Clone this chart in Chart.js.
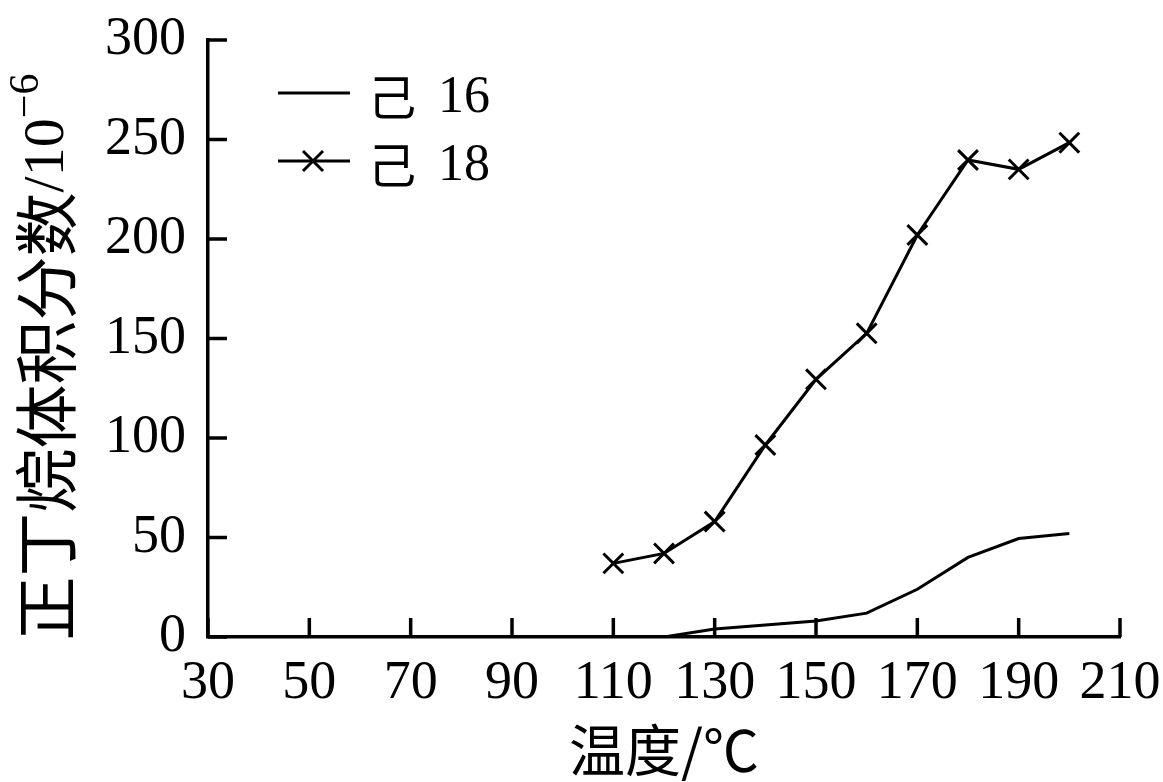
<!DOCTYPE html>
<html>
<head>
<meta charset="utf-8">
<script src="https://cdn.jsdelivr.net/npm/chart.js@4"></script>
<style>
  html, body { margin: 0; padding: 0; background: #fff; }
  #wrap { width: 1163px; height: 782px; position: relative; }
</style>
</head>
<body>
<div id="wrap"><canvas id="myChart"></canvas></div>
<script>
// 數據
const xTicks = [30, 50, 70, 90, 110, 130, 150, 170, 190, 210];
const yTicks = [0, 50, 100, 150, 200, 250, 300];
const seriesNames = ['己 16', '己 18'];
const temps16 = [120, 130, 140, 150, 160, 170, 180, 190, 200];
const values16 = [0, 4, 6, 8, 12, 24, 40, 49.5, 52];
const temps18 = [110, 120, 130, 140, 150, 160, 170, 180, 190, 200];
const values18 = [37, 42, 58, 96.5, 129.5, 152.6, 202, 239.7, 235, 248.4];

const serif = '"Liberation Serif", "Noto Sans CJK SC", serif';
const cjk = '"Noto Sans CJK SC", "Liberation Serif", serif';

// 刻度朝內
const innerTicks = {
  id: 'innerTicks',
  afterDraw(chart) {
    const ctx = chart.ctx;
    const xs = chart.scales.x, ys = chart.scales.y;
    const area = chart.chartArea;
    ctx.save();
    ctx.strokeStyle = '#000';
    ctx.lineWidth = 3.5;
    xTicks.forEach(v => {
      const px = xs.getPixelForValue(v);
      ctx.beginPath();
      ctx.moveTo(px, area.bottom);
      ctx.lineTo(px, area.bottom - 19);
      ctx.stroke();
    });
    yTicks.forEach(v => {
      const py = ys.getPixelForValue(v);
      ctx.beginPath();
      ctx.moveTo(area.left, py);
      ctx.lineTo(area.left + 19, py);
      ctx.stroke();
    });
    ctx.restore();
  }
};

// 圖例 (畫在圖表內左上)
const innerLegend = {
  id: 'innerLegend',
  afterDraw(chart) {
    const ctx = chart.ctx;
    ctx.save();
    chart.data.datasets.forEach((ds, i) => {
      const y = 93 + i * 68;
      ctx.strokeStyle = '#000';
      ctx.lineWidth = 3;
      ctx.beginPath();
      ctx.moveTo(278, y);
      ctx.lineTo(350, y);
      ctx.stroke();
      if (ds.pointRadius > 0) {
        const r = 10;
        ctx.lineWidth = 3;
        ctx.beginPath();
        ctx.moveTo(313 - r, y - r);
        ctx.lineTo(313 + r, y + r);
        ctx.moveTo(313 - r, y + r);
        ctx.lineTo(313 + r, y - r);
        ctx.stroke();
      }
      const parts = ds.label.split(' ');
      ctx.fillStyle = '#000';
      ctx.textBaseline = 'middle';
      ctx.textAlign = 'left';
      ctx.font = '48px ' + cjk;
      ctx.fillText(parts[0], 368, y + 4);
      ctx.font = '52px ' + serif;
      ctx.fillText(parts[1], 438, y + 5);
    });
    ctx.restore();
  }
};

// 軸標題
const axisTitles = {
  id: 'axisTitles',
  afterDraw(chart) {
    const ctx = chart.ctx;
    const area = chart.chartArea;
    ctx.save();
    ctx.fillStyle = '#000';
    ctx.textBaseline = 'middle';
    // x
    ctx.textAlign = 'center';
    ctx.font = '56px ' + cjk;
    ctx.fillText('温度/℃', (area.left + area.right) / 2, 750);
    // y，含上標
    const parts = [
      { t: '正丁烷体积分数', f: '64px ' + cjk, dy: 0 },
      { t: '/', f: '58px ' + serif, dy: 2 },
      { t: '10', f: '58px ' + serif, dy: 2 },
      { t: '−6', f: '42px ' + serif, dy: -19 }
    ];
    let total = 0;
    parts.forEach(p => { ctx.font = p.f; p.w = ctx.measureText(p.t).width; total += p.w; });
    ctx.translate(46, 357);
    ctx.rotate(-Math.PI / 2);
    ctx.textAlign = 'left';
    let x = -total / 2;
    parts.forEach(p => {
      ctx.font = p.f;
      ctx.fillText(p.t, x, p.dy);
      x += p.w;
    });
    ctx.restore();
  }
};

var canvas = document.getElementById('myChart');
var ctx = canvas.getContext('2d');
const myChart = new Chart(ctx, {
  type: 'line',
  data: {
    datasets: [
      {
        label: seriesNames[0],
        data: temps16.map((t, i) => ({ x: t, y: values16[i] })),
        borderColor: '#000',
        borderWidth: 3,
        pointRadius: 0,
        tension: 0,
        fill: false
      },
      {
        label: seriesNames[1],
        data: temps18.map((t, i) => ({ x: t, y: values18[i] })),
        borderColor: '#000',
        borderWidth: 3,
        pointStyle: 'crossRot',
        pointRadius: 14,
        pointBorderWidth: 3,
        pointBorderColor: '#000',
        tension: 0,
        fill: false
      }
    ]
  },
  options: {
    responsive: true,
    maintainAspectRatio: false,
    animation: false,
    devicePixelRatio: 1,
    layout: {
      padding: { left: 0, right: 43, top: 40, bottom: 0 }
    },
    plugins: {
      legend: { display: false },
      tooltip: { enabled: false }
    },
    scales: {
      x: {
        type: 'linear',
        min: 30,
        max: 210,
        afterFit: s => {
          s.height = 145;
          s.paddingLeft = 0; s.paddingRight = 0;
        },
        afterBuildTicks: s => { s.ticks = xTicks.map(v => ({ value: v })); },
        grid: { display: false, drawTicks: false },
        border: { display: true, color: '#000', width: 3.5 },
        ticks: {
          color: '#000',
          padding: 14,
          maxRotation: 0,
          font: { family: serif, size: 54 }
        }
      },
      y: {
        type: 'linear',
        min: 0,
        max: 300,
        afterFit: s => {
          s.width = 208;
          s.paddingTop = 0; s.paddingBottom = 0;
        },
        afterBuildTicks: s => { s.ticks = yTicks.map(v => ({ value: v })); },
        grid: { display: false, drawTicks: false },
        border: { display: true, color: '#000', width: 3.5 },
        ticks: {
          color: '#000',
          padding: 22,
          font: { family: serif, size: 54 }
        }
      }
    }
  },
  plugins: [innerTicks, innerLegend, axisTitles]
});
</script>
</body>
</html>
